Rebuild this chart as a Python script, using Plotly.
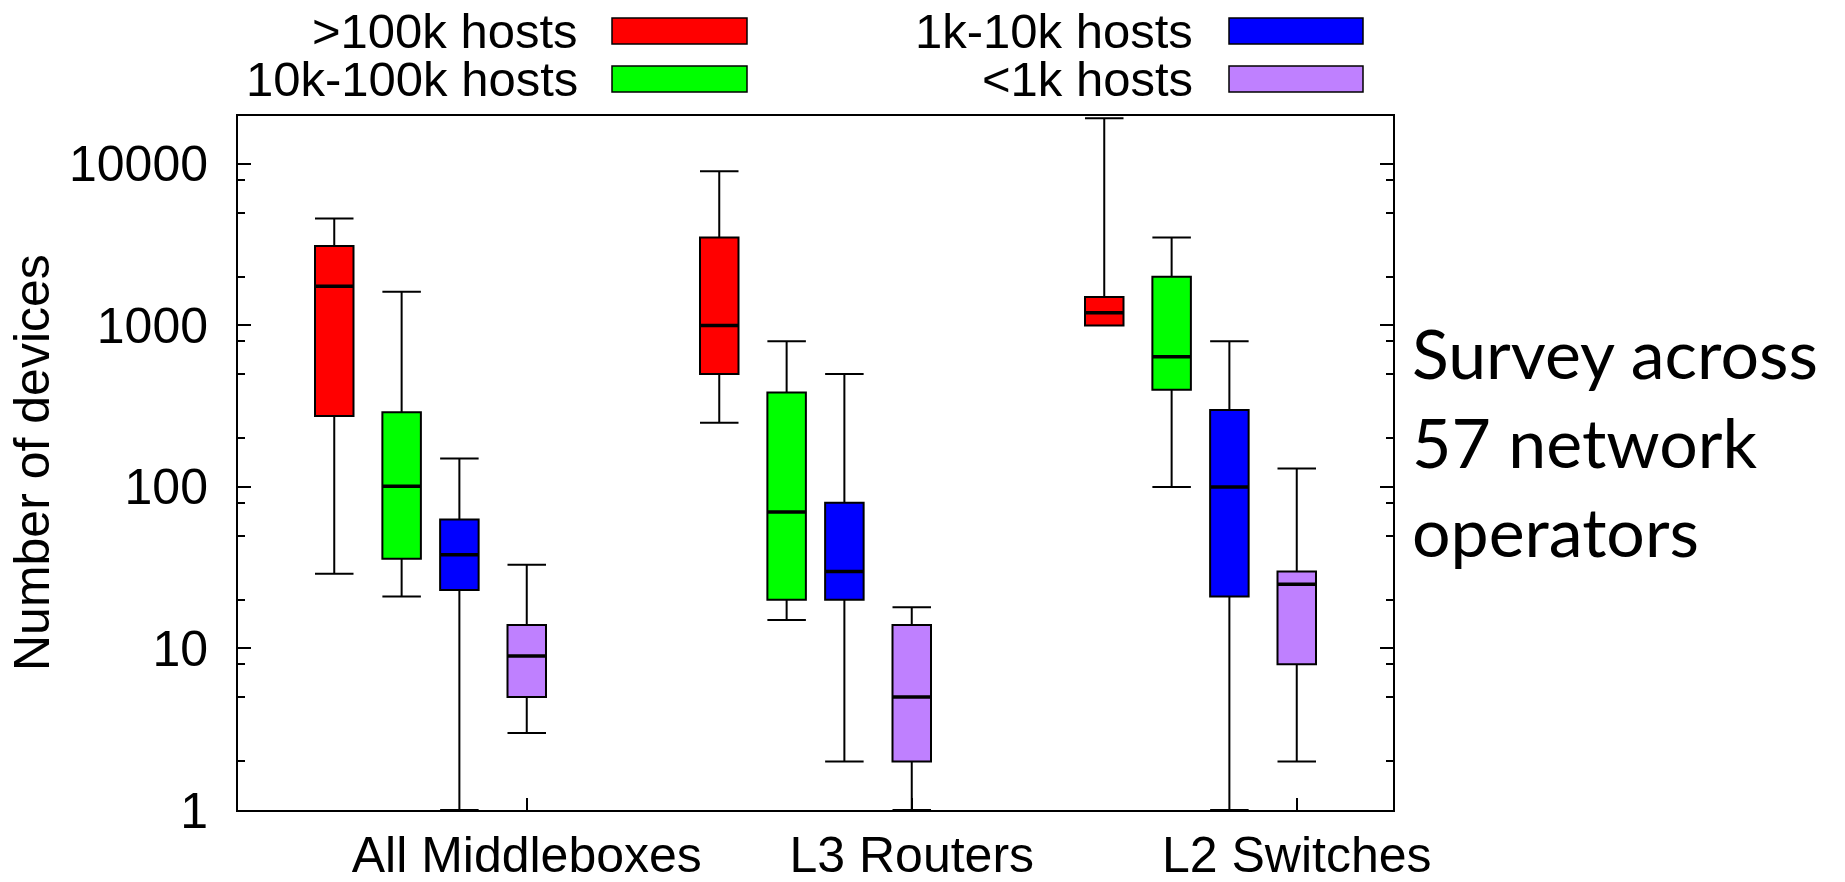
import plotly.graph_objects as go

# ---- data ----
categories = ["All Middleboxes", "L3 Routers", "L2 Switches"]
series_names = [">100k hosts", "10k-100k hosts", "1k-10k hosts", "<1k hosts"]

big_lower = [29, 250, 1000]
big_q1 = [275, 500, 1000]
big_median = [1750, 1000, 1200]
big_q3 = [3100, 3500, 1500]
big_upper = [4600, 9000, 19200]

mid_lower = [21, 15, 100]
mid_q1 = [36, 20, 400]
mid_median = [101, 70, 640]
mid_q3 = [290, 385, 2000]
mid_upper = [1620, 800, 3500]

small_lower = [1, 2, 1]
small_q1 = [23, 20, 21]
small_median = [38, 30, 100]
small_q3 = [63, 80, 300]
small_upper = [150, 500, 800]

tiny_lower = [3, 1, 2]
tiny_q1 = [5, 2, 8]
tiny_median = [9, 5, 25]
tiny_q3 = [14, 14, 30]
tiny_upper = [33, 18, 130]

y_tick_values = [1, 10, 100, 1000, 10000]
y_tick_labels = ["1", "10", "100", "1000", "10000"]

# ---- styling / layout constants ----
colors = ["#FF0000", "#00FF00", "#0000FF", "#BF80FF"]
group_step = 6.0
series_offsets = [0.0, 1.05, 1.95, 3.0]
box_w = 0.6
FONT = "Liberation Sans, Arial, Helvetica, sans-serif"
FS = 50

stats = [
    (big_lower, big_q1, big_median, big_q3, big_upper),
    (mid_lower, mid_q1, mid_median, mid_q3, mid_upper),
    (small_lower, small_q1, small_median, small_q3, small_upper),
    (tiny_lower, tiny_q1, tiny_median, tiny_q3, tiny_upper),
]

fig = go.Figure()
med_x, med_y = [], []
for si, (lo, q1, med, q3, up) in enumerate(stats):
    xs = [g * group_step + series_offsets[si] for g in range(len(categories))]
    fig.add_trace(go.Box(
        x=xs, q1=q1, median=med, q3=q3, lowerfence=lo, upperfence=up,
        width=box_w, whiskerwidth=1.0, boxpoints=False,
        fillcolor=colors[si], line=dict(color="black", width=2),
        name=series_names[si], showlegend=False, hoverinfo="skip",
    ))
    for x, m in zip(xs, med):
        med_x += [x - box_w / 2, x + box_w / 2, None]
        med_y += [m, m, None]

fig.add_trace(go.Scatter(x=med_x, y=med_y, mode="lines",
                         line=dict(color="black", width=3.5),
                         showlegend=False, hoverinfo="skip"))

label_x = [g * group_step + series_offsets[3] for g in range(len(categories))]

minor_vals = []
for d in [1, 10, 100, 1000, 10000]:
    for m in [2, 5, 8]:
        if d * m < 19000:
            minor_vals.append(d * m)

# page has an 8px body margin; target plot area in page pixels: x 238..1393, y 116..810
OFF = 8
L, R, T, B = 238, 1393, 116, 810
W, H = 1845 - 2 * OFF, 882 - 2 * OFF
pw, ph = R - L, B - T

def px(xp):
    return (xp - L) / pw

def py(yp):
    return (B - yp) / ph

annotations = []
shapes = []
# legend (gnuplot style: text right-aligned, swatch to the right)
leg = [
    (0, 580, 612, 747, 31, 18, 44),
    (1, 580, 612, 747, 79, 66, 92),
    (2, 1195, 1229, 1363, 31, 18, 44),
    (3, 1195, 1229, 1363, 79, 66, 92),
]
for si, tx, sx0, sx1, ty, sy0, sy1 in leg:
    annotations.append(dict(x=px(tx), y=py(ty), xref="paper", yref="paper",
                            text=series_names[si], showarrow=False,
                            xanchor="right", yanchor="middle",
                            font=dict(family=FONT, size=49, color="black")))
    shapes.append(dict(type="rect", xref="paper", yref="paper",
                       x0=px(sx0), x1=px(sx1), y0=py(sy1), y1=py(sy0),
                       fillcolor=colors[si], line=dict(color="black", width=1.5)))

# y-axis title
annotations.append(dict(x=px(32), y=0.5, xref="paper", yref="paper",
                        text="Number of devices", textangle=-90, showarrow=False,
                        xanchor="center", yanchor="middle",
                        font=dict(family=FONT, size=FS, color="black")))

# side note
for txt, yc in [("Survey across", 352), ("57 network", 441), ("operators", 530)]:
    annotations.append(dict(x=px(1410), y=py(yc), xref="paper", yref="paper",
                            text=txt, showarrow=False, xanchor="left", yanchor="middle",
                            font=dict(family="Lato, Carlito, sans-serif", size=68, color="black")))

fig.update_layout(
    width=W, height=H,
    margin=dict(l=L - OFF, r=W - (R - OFF), t=T - OFF, b=H - (B - OFF), autoexpand=False),
    plot_bgcolor="white", paper_bgcolor="white",
    annotations=annotations, shapes=shapes,
    showlegend=False,
    font=dict(family=FONT, size=FS, color="black"),
)
fig.update_xaxes(
    range=[-1.5, 16.5], showgrid=False, zeroline=False, automargin=False,
    showline=True, linecolor="black", linewidth=2, mirror=True,
    ticks="inside", ticklen=12, tickwidth=1.5, tickcolor="black",
    tickvals=label_x, ticktext=categories,
    tickfont=dict(family=FONT, size=FS, color="black"),
    ticklabelstandoff=0,
)
fig.update_yaxes(
    type="log", range=[0, 4.297], showgrid=False, zeroline=False, automargin=False,
    showline=True, linecolor="black", linewidth=2, mirror="ticks",
    ticks="inside", ticklen=13, tickwidth=1.5, tickcolor="black",
    tickvals=y_tick_values, ticktext=y_tick_labels,
    tickfont=dict(family=FONT, size=FS, color="black"),
    ticklabelstandoff=18,
    minor=dict(tickvals=minor_vals, ticks="inside", ticklen=7, tickwidth=1.5,
               tickcolor="black", showgrid=False),
)

fig.write_html("out.html")
